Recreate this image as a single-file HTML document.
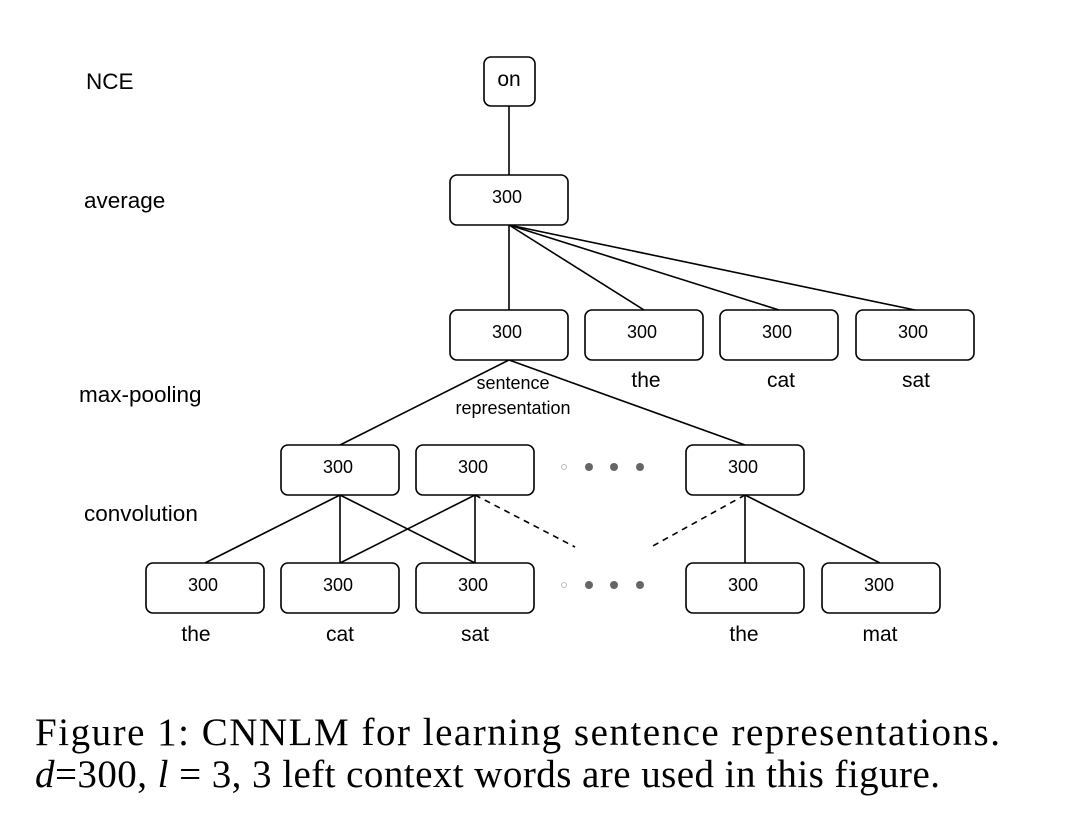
<!DOCTYPE html>
<html><head><meta charset="utf-8"><style>
body{margin:0;background:#fff;width:1076px;height:816px;overflow:hidden}
svg{display:block}
.b{fill:#fff;stroke:#000;stroke-width:1.6}
.t{font-family:"Liberation Sans",sans-serif;font-size:18px;text-anchor:middle}
.l{font-family:"Liberation Sans",sans-serif;font-size:22.5px}
.w{font-family:"Liberation Sans",sans-serif;font-size:21px;text-anchor:middle}
line{stroke:#000;stroke-width:1.6}
.cap{font-family:"Liberation Serif",serif;font-size:39px}
</style></head><body>
<svg width="1076" height="816">
<g>
<line x1="509" y1="106" x2="509" y2="175"/>
<line x1="509" y1="225" x2="509" y2="310"/>
<line x1="509" y1="225" x2="644" y2="310"/>
<line x1="509" y1="225" x2="779" y2="310"/>
<line x1="509" y1="225" x2="915" y2="310"/>
<line x1="509" y1="360" x2="340" y2="445"/>
<line x1="509" y1="360" x2="745" y2="445"/>
<line x1="340" y1="495" x2="205" y2="563"/>
<line x1="340" y1="495" x2="340" y2="563"/>
<line x1="340" y1="495" x2="475" y2="563"/>
<line x1="475" y1="495" x2="340" y2="563"/>
<line x1="475" y1="495" x2="475" y2="563"/>
<line x1="475" y1="495" x2="575" y2="547" stroke-dasharray="6,5"/>
<line x1="745" y1="495" x2="745" y2="563"/>
<line x1="745" y1="495" x2="880" y2="563"/>
<line x1="745" y1="495" x2="651" y2="547" stroke-dasharray="6,5"/>
</g>
<g>
<rect class="b" x="484" y="57" width="51" height="49" rx="7"/>
<text class="t" x="509" y="86" style="font-size:21px">on</text>
<rect class="b" x="450" y="175" width="118" height="50" rx="7"/>
<text class="t" x="507" y="203">300</text>
<g>
<rect class="b" x="450" y="310" width="118" height="50" rx="7"/><text class="t" x="507" y="338">300</text>
<rect class="b" x="585" y="310" width="118" height="50" rx="7"/><text class="t" x="642" y="338">300</text>
<rect class="b" x="720" y="310" width="118" height="50" rx="7"/><text class="t" x="777" y="338">300</text>
<rect class="b" x="856" y="310" width="118" height="50" rx="7"/><text class="t" x="913" y="338">300</text>
</g>
<g>
<rect class="b" x="281" y="445" width="118" height="50" rx="7"/><text class="t" x="338" y="473">300</text>
<rect class="b" x="416" y="445" width="118" height="50" rx="7"/><text class="t" x="473" y="473">300</text>
<rect class="b" x="686" y="445" width="118" height="50" rx="7"/><text class="t" x="743" y="473">300</text>
</g>
<g>
<rect class="b" x="146" y="563" width="118" height="50" rx="7"/><text class="t" x="203" y="591">300</text>
<rect class="b" x="281" y="563" width="118" height="50" rx="7"/><text class="t" x="338" y="591">300</text>
<rect class="b" x="416" y="563" width="118" height="50" rx="7"/><text class="t" x="473" y="591">300</text>
<rect class="b" x="686" y="563" width="118" height="50" rx="7"/><text class="t" x="743" y="591">300</text>
<rect class="b" x="822" y="563" width="118" height="50" rx="7"/><text class="t" x="879" y="591">300</text>
</g>
</g>
<g>
<circle cx="564" cy="467" r="2.5" fill="none" stroke="#bbb"/><circle cx="589" cy="467" r="4" fill="#666"/><circle cx="614" cy="467" r="4" fill="#666"/><circle cx="640" cy="467" r="4" fill="#666"/>
<circle cx="564" cy="585" r="2.5" fill="none" stroke="#bbb"/><circle cx="589" cy="585" r="4" fill="#666"/><circle cx="614" cy="585" r="4" fill="#666"/><circle cx="640" cy="585" r="4" fill="#666"/>
</g>
<g>
<text class="l" x="86" y="89">NCE</text>
<text class="l" x="84" y="208">average</text>
<text class="l" x="79" y="402">max-pooling</text>
<text class="l" x="84" y="521">convolution</text>
</g>
<g>
<text class="w" x="646" y="387">the</text>
<text class="w" x="781" y="387">cat</text>
<text class="w" x="916" y="387">sat</text>
<text class="t" x="513" y="389">sentence</text>
<text class="t" x="513" y="414">representation</text>
<text class="w" x="196" y="641">the</text>
<text class="w" x="340" y="641">cat</text>
<text class="w" x="475" y="641">sat</text>
<text class="w" x="744" y="641">the</text>
<text class="w" x="880" y="641">mat</text>
</g>
<g>
<text class="cap" x="35" y="745" textLength="965" lengthAdjust="spacing">Figure 1:  CNNLM for learning sentence representations.</text>
<text class="cap" x="35" y="787" textLength="905" lengthAdjust="spacing"><tspan font-style="italic">d</tspan>=300, <tspan font-style="italic">l</tspan> = 3, 3 left context words are used in this figure.</text>
</g>
</svg>
</body></html>
